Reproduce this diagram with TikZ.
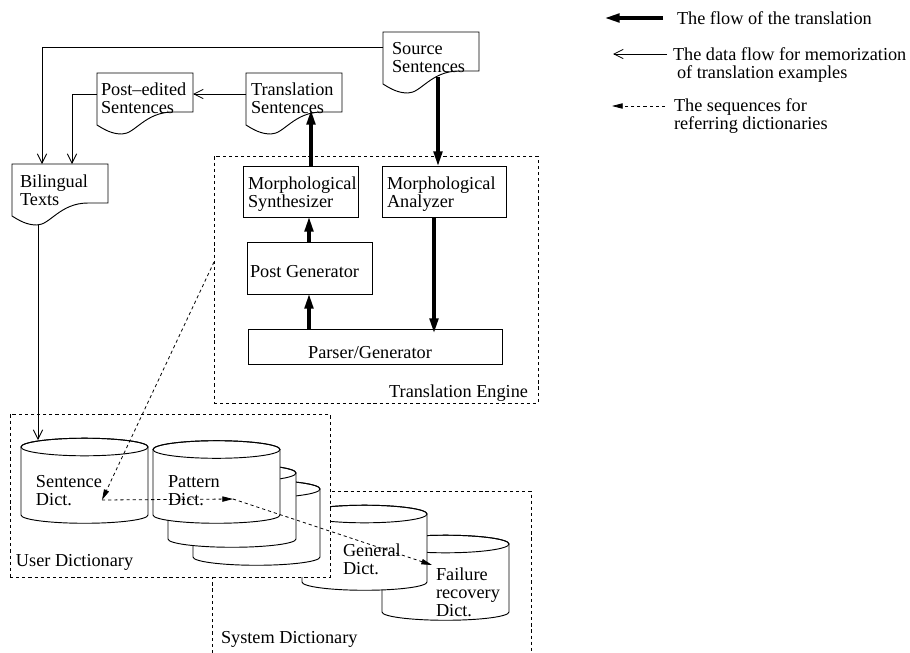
\documentclass[tikz,border=0pt]{standalone}
\usepackage{fontspec}
\setmainfont{Liberation Serif}
\usetikzlibrary{arrows.meta,calc}

% document symbol: flat top, wavy bottom edge, drawn round a named frame node
\newcommand{\docoutline}[1]{%
  \draw[docline] (#1.south east) -- (#1.north east) -- (#1.north west)
    -- ($(#1.south west)+(0,13)$)
    .. controls ($(#1.south west)+(8,18)$) and ($(#1.south west)+(15,22)$) .. ($(#1.south west)+(25,22)$)
    .. controls ($(#1.south west)+(38,22)$) and ($(#1.south west)+(48,0)$) .. ($(#1.south west)+(76,0)$)
    -- cycle;}

% dictionary drum: #1 name, #2 left, #3 right, #4 top centre y, #5 bottom centre y
\newcommand{\dictdrum}[5]{%
  \pgfmathsetmacro\drumrx{(#3-#2)*0.375}%
  \pgfmathsetmacro\drummid{(#2+#3)/2}%
  \filldraw[fill=white, line width=0.7pt] (#2,#4) -- (#2,#5)
    arc[start angle=180, end angle=360, x radius=\drumrx pt, y radius=6.2pt]
    -- (#3,#4)
    arc[start angle=0, end angle=180, x radius=\drumrx pt, y radius=6.6pt] -- cycle;
  \draw[line width=0.7pt] (\drummid,#4) ellipse [x radius=\drumrx pt, y radius=6.6pt];
  \coordinate (#1) at (\drummid,#4);}

\begin{document}
\begin{tikzpicture}[x=0.75pt, y=-0.75pt,
  every node/.style={font=\fontsize{13.7pt}{13.5pt}\selectfont, inner sep=0pt, outer sep=0pt},
  txt/.style={align=left, anchor=west},
  blk/.style={draw, line width=0.7pt},
  docframe/.style={anchor=north west, minimum width=72pt, minimum height=29.25pt},
  docline/.style={line width=0.7pt},
  region/.style={draw, line width=0.6pt, dash pattern=on 2.4pt off 2.2pt},
  flow/.style={line width=2.3pt, -{Triangle[length=11pt,width=6.5pt]}},
  memo/.style={line width=0.6pt, -{Straight Barb[length=7pt,width=7pt,line width=0.6pt]}},
  refer/.style={line width=0.6pt, dash pattern=on 2.4pt off 2.2pt, -{Triangle[length=8pt,width=4pt]}},
]
\useasboundingbox (0,0) rectangle (910,653);

% ---------- system dictionary ----------
\draw[region] (212,653) -- (212,491) -- (531,491) -- (531,653);
\dictdrum{faildrum}{382}{509}{544}{612}
\dictdrum{gendrum}{302}{427}{514}{582}
\node[txt] (gentxt) at (343,559.5) {General\\Dict.};
\node[txt] (failtxt) at (436,592) {Failure\\recovery\\Dict.};
\node[txt] (syslbl) at (221,639) {System Dictionary};

% ---------- user dictionary ----------
\node[region, fill=white, anchor=north west, minimum width=240pt, minimum height=122.25pt] (userdict) at (10,414) {};
\dictdrum{pat3drum}{193}{320}{489}{557}
\dictdrum{pat2drum}{168}{296}{473}{539}
\dictdrum{patdrum}{153}{280}{449.5}{515}
\dictdrum{sentdrum}{21}{148}{447}{515}
\node[txt] (senttxt) at (36,491) {Sentence\\Dict.};
\node[txt] (pattxt) at (168,491) {Pattern\\Dict.};
\node[txt] (userlbl) at (16,562) {User Dictionary};

% ---------- translation engine ----------
\node[region, anchor=north west, minimum width=243pt, minimum height=185.25pt] (engine) at (214,156) {};
\node[txt, anchor=east] (enginelbl) at (528,393) {Translation Engine};
\node[blk, minimum width=86.25pt, minimum height=38.25pt] (synth) at (300.5,191.5) {};
\node[txt] (synthtxt) at (248,194.5) {Morphological\\Synthesizer};
\node[blk, minimum width=93pt, minimum height=38.25pt] (ana) at (444,191.5) {};
\node[txt] (anatxt) at (387,194.5) {Morphological\\Analyzer};
\node[blk, minimum width=93.75pt, minimum height=39pt] (postgen) at (309.5,268) {};
\node[txt] (postgentxt) at (250,272) {Post Generator};
\node[blk, minimum width=190.5pt, minimum height=26.25pt] (parser) at (375,346.5) {};
\node (parsertxt) at (370,353) {Parser/Generator};

% ---------- documents ----------
\node[docframe] (srcdoc) at (383,32) {};
\docoutline{srcdoc}
\node[txt] (srctxt) at (392,58) {Source\\Sentences};
\node[docframe] (transdoc) at (246,73) {};
\docoutline{transdoc}
\node[txt] (transtxt) at (251,98.5) {Translation\\Sentences};
\node[docframe] (postdoc) at (97,73) {};
\docoutline{postdoc}
\node[txt] (posttxt) at (101,98.5) {Post--edited\\Sentences};
\node[docframe] (bildoc) at (12,164) {};
\docoutline{bildoc}
\node[txt] (biltxt) at (20,190) {Bilingual\\Texts};

% ---------- flow of the translation ----------
\draw[flow] ($(srcdoc.south west)+(55,6)$) -- ($(ana.north west)+(56,0)$);
\draw[flow] ($(ana.south west)+(52,0)$) -- ($(parser.north west)+(186,4)$);
\draw[flow] ($(parser.north west)+(61,0)$) -- ($(postgen.south west)+(62,0)$);
\draw[flow] ($(postgen.north west)+(62,0)$) -- ($(synth.south west)+(66,0)$);
\draw[flow] ($(synth.north west)+(68,0)$) -- ($(transdoc.south west)+(65,-2)$);

% ---------- memorization data flow ----------
\draw[memo] ($(transdoc.north west)+(0,21)$) -- ($(postdoc.north east)+(0,21)$);
\draw[memo] ($(postdoc.north west)+(0,21)$) -| ($(bildoc.north west)+(60,0)$);
\draw[memo] ($(srcdoc.north west)+(0,15)$) -| ($(bildoc.north west)+(30,0)$);
\draw[memo] ($(bildoc.south west)+(26,22)$) -- ($(sentdrum)+(-46.5,-7)$);

% ---------- dictionary look-up sequence ----------
\coordinate (sentpt) at (102,500);
\coordinate (patpt) at (233,499);
\coordinate (failpt) at (432,565);
\draw[refer] ($(engine.north west)+(0,106)$) -- (sentpt);
\draw[refer] (sentpt) -- (patpt);
\draw[refer] (patpt) -- (failpt);

% ---------- legend ----------
\node[txt] (leg1) at (677,18) {The flow of the translation};
\draw[flow] ($(leg1.west)+(-14,0)$) -- ($(leg1.west)+(-72,0)$);
\node[txt] (leg2) at (673,65) {The data flow for memorization\\\hspace*{3pt}of translation examples};
\draw[memo] ($(leg2.west)+(-6,-11)$) -- ($(leg2.west)+(-60,-11)$);
\node[txt] (leg3) at (674,116) {The sequences for\\referring dictionaries};
\draw[refer] ($(leg3.west)+(-9,-10)$) -- ($(leg3.west)+(-62,-10)$);
\end{tikzpicture}
\end{document}
